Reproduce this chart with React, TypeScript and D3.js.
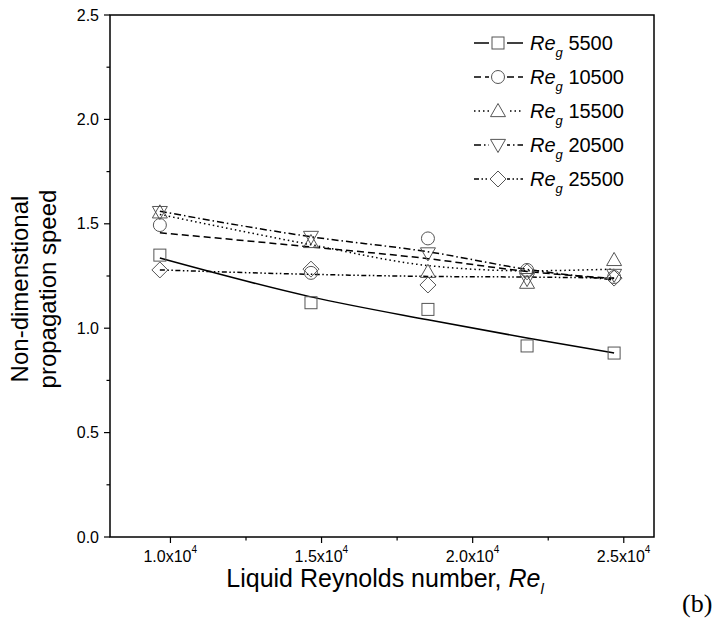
import React from "react";
import * as d3 from "d3";

const reL = [9650, 14650, 18520, 21800, 24680];
const seriesNames = ["5500", "10500", "15500", "20500", "25500"];
const sq = [1.35, 1.122, 1.09, 0.915, 0.881];
const circ = [1.494, 1.265, 1.43, 1.279, 1.245];
const triUp = [1.555, 1.413, 1.27, 1.218, 1.327];
const triDown = [1.556, 1.437, 1.358, 1.235, 1.255];
const diam = [1.279, 1.283, 1.207, 1.27, 1.24];
// fitted curves (same x positions)
const fitSq = [1.336, 1.15, 1.04, 0.953, 0.881];
const fitCirc = [1.457, 1.389, 1.333, 1.272, 1.238];
const fitTriUp = [1.545, 1.4, 1.3, 1.275, 1.283];
const fitTriDown = [1.56, 1.438, 1.366, 1.282, 1.231];
const fitDiam = [1.279, 1.258, 1.248, 1.245, 1.24];

const yTicks = [0, 0.5, 1.0, 1.5, 2.0, 2.5];
const yMinor = [0.25, 0.75, 1.25, 1.75, 2.25];
const xTicks = [10000, 15000, 20000, 25000];
const xMinor = [12500, 17500, 22500];
const xTickMant = ["1.0", "1.5", "2.0", "2.5"];

const W = 717, H = 625;
const L = 110, R = 654, T = 15, B = 537;

const x = d3.scaleLinear().domain([8000, 26000]).range([L, R]);
const y = d3.scaleLinear().domain([0, 2.5]).range([B, T]);

const markerStroke = "#555";

function Marker({ type, cx, cy }: { type: string; cx: number; cy: number }) {
  const s = 6;
  const common = { fill: "none", stroke: markerStroke, strokeWidth: 1 } as any;
  if (type === "square") return <rect x={cx - s} y={cy - s} width={2 * s} height={2 * s} {...common} />;
  if (type === "circle") return <circle cx={cx} cy={cy} r={s + 0.5} {...common} />;
  if (type === "up") {
    const h = 7.5;
    return <polygon points={`${cx},${cy - h} ${cx + h},${cy + h * 0.75} ${cx - h},${cy + h * 0.75}`} {...common} />;
  }
  if (type === "down") {
    const h = 7.5;
    return <polygon points={`${cx},${cy + h} ${cx + h},${cy - h * 0.75} ${cx - h},${cy - h * 0.75}`} {...common} />;
  }
  const d = 8;
  return <polygon points={`${cx},${cy - d} ${cx + d},${cy} ${cx},${cy + d} ${cx - d},${cy}`} {...common} />;
}

const series = [
  { name: seriesNames[0], pts: sq, fit: fitSq, marker: "square", dash: "" },
  { name: seriesNames[1], pts: circ, fit: fitCirc, marker: "circle", dash: "7,4" },
  { name: seriesNames[2], pts: triUp, fit: fitTriUp, marker: "up", dash: "1.5,3" },
  { name: seriesNames[3], pts: triDown, fit: fitTriDown, marker: "down", dash: "7,3,1.5,3" },
  { name: seriesNames[4], pts: diam, fit: fitDiam, marker: "diamond", dash: "5,2.5,1.5,2.5,1.5,2.5" },
];

export default function App() {
  const line = d3
    .line<[number, number]>()
    .x((d) => x(d[0]))
    .y((d) => y(d[1]))
    .curve(d3.curveMonotoneX);
  const font = "Arial, 'Liberation Sans', sans-serif";
  return (
    <svg width={W} height={H} style={{ position: "absolute", left: 0, top: 0, background: "#fff" }}>
      <rect x={0} y={0} width={W} height={H} fill="#fff" />
      {series.map((s, i) => (
        <path
          key={"l" + i}
          d={line(reL.map((v, j) => [v, s.fit[j]]) as [number, number][]) || ""}
          fill="none"
          stroke="#000"
          strokeWidth={1.5}
          strokeDasharray={s.dash || undefined}
        />
      ))}
      {series.map((s, i) =>
        reL.map((v, j) => <Marker key={`m${i}-${j}`} type={s.marker} cx={x(v)} cy={y(s.pts[j])} />)
      )}
      <rect x={L} y={T} width={R - L} height={B - T} fill="none" stroke="#000" strokeWidth={1.5} />
      {yTicks.map((t) => (
        <g key={"yt" + t}>
          <line x1={L - 6} x2={L} y1={y(t)} y2={y(t)} stroke="#000" strokeWidth={1.2} />
          <text x={L - 11} y={y(t)} dy="0.35em" textAnchor="end" fontFamily={font} fontSize={16}>
            {t.toFixed(1)}
          </text>
        </g>
      ))}
      {yMinor.map((t) => (
        <line key={"ym" + t} x1={L - 3.5} x2={L} y1={y(t)} y2={y(t)} stroke="#000" strokeWidth={1.2} />
      ))}
      {xTicks.map((t, i) => (
        <g key={"xt" + t}>
          <line x1={x(t)} x2={x(t)} y1={B} y2={B + 6} stroke="#000" strokeWidth={1.2} />
          <text x={x(t) - 27} y={B + 25} textAnchor="start" fontFamily={font} fontSize={16}>
            {xTickMant[i]}x10
            <tspan fontSize={10} dy={-9}>4</tspan>
          </text>
        </g>
      ))}
      {xMinor.map((t) => (
        <line key={"xm" + t} x1={x(t)} x2={x(t)} y1={B} y2={B + 3.5} stroke="#000" strokeWidth={1.2} />
      ))}
      <text x={385} y={587} textAnchor="middle" fontFamily={font} fontSize={25}>
        Liquid Reynolds number, <tspan fontStyle="italic">Re</tspan>
        <tspan fontStyle="italic" fontSize={15} dy={7}>l</tspan>
      </text>
      <g transform="translate(28,289) rotate(-90)">
        <text x={0} y={0} textAnchor="middle" fontFamily={font} fontSize={24}>
          Non-dimenstional
        </text>
        <text x={0} y={28} textAnchor="middle" fontFamily={font} fontSize={24}>
          propagation speed
        </text>
      </g>
      <text x={682} y={612} fontFamily="'Liberation Serif', 'Times New Roman', serif" fontSize={26}>
        (b)
      </text>
      {series.map((s, i) => {
        const ly = 43 + i * 34;
        return (
          <g key={"lg" + i}>
            <line x1={474} x2={523} y1={ly} y2={ly} stroke="#000" strokeWidth={1.5} strokeDasharray={s.dash || undefined} />
            <rect x={489} y={ly - 9} width={18} height={18} fill="#fff" />
            <Marker type={s.marker} cx={498} cy={ly} />
            <text x={530} y={ly + 7} fontFamily={font} fontSize={20}>
              <tspan fontStyle="italic">Re</tspan>
              <tspan fontStyle="italic" fontSize={13} dy={7}>g</tspan>
              <tspan dy={-7}> {s.name}</tspan>
            </text>
          </g>
        );
      })}
    </svg>
  );
}
